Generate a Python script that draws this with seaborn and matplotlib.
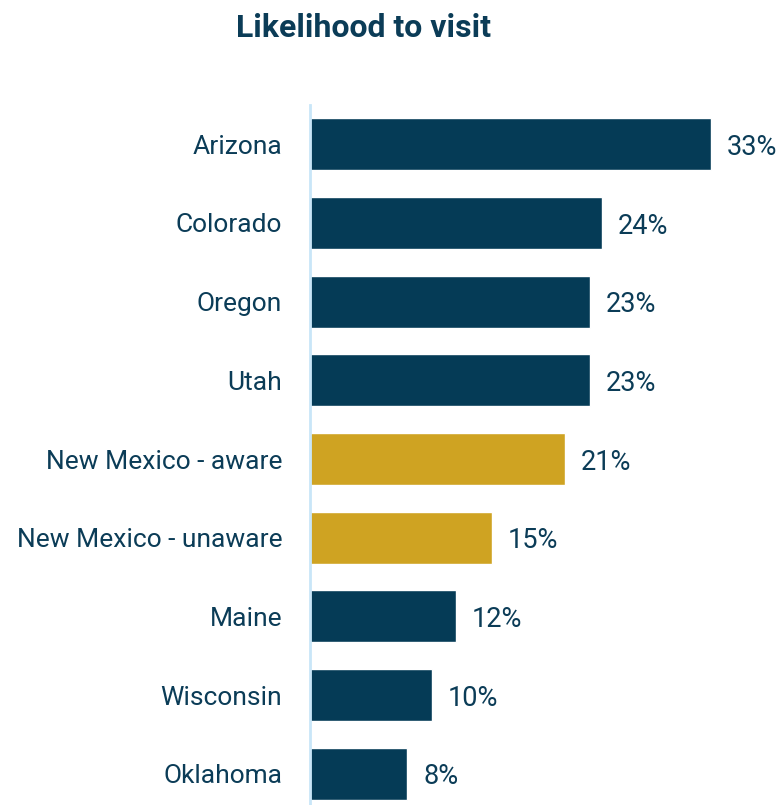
import matplotlib
matplotlib.use("Agg")
import matplotlib.pyplot as plt
import seaborn as sns
import pandas as pd

states = ["Arizona", "Colorado", "Oregon", "Utah", "New Mexico - aware",
          "New Mexico - unaware", "Maine", "Wisconsin", "Oklahoma"]
likelihood = [33, 24, 23, 23, 21, 15, 12, 10, 8]
groups = ["other", "other", "other", "other", "nm", "nm", "other", "other", "other"]

NAVY = "#053B56"
GOLD = "#CFA322"
TEXT = "#0B3C57"
AXIS = "#C9E6F8"

sns.set_theme(style="white")
plt.rcParams["font.family"] = ["Roboto", "DejaVu Sans"]

df = pd.DataFrame({"state": states, "value": likelihood, "group": groups})

fig = plt.figure(figsize=(7.79, 8.05), dpi=100)
ax = fig.add_axes([310 / 779, -8 / 805, 462 / 779, 708 / 805])

sns.barplot(data=df, x="value", y="state", hue="group",
            palette={"other": NAVY, "nm": GOLD}, order=states,
            width=0.66, dodge=False, legend=False, ax=ax, saturation=1)

for i, v in enumerate(likelihood):
    ax.text(v + 1.3, i, f"{v}%", va="center_baseline", ha="left",
            fontsize=19.5, color=TEXT)

ax.set_xlim(0, 38)
ax.set_ylim(8.5, -0.5)
ax.set_xlabel("")
ax.set_ylabel("")
ax.set_xticks([])
ax.tick_params(axis="y", length=0, pad=20, labelsize=19, labelcolor=TEXT)
for s in ["top", "right", "bottom"]:
    ax.spines[s].set_visible(False)
ax.spines["left"].set_color(AXIS)
ax.spines["left"].set_linewidth(2)

fig.text(363 / 779, 1 - 28 / 805, "Likelihood to visit", ha="center", va="center",
         fontsize=23, fontweight="bold", color=TEXT)

fig.savefig("out.png", dpi=100)
